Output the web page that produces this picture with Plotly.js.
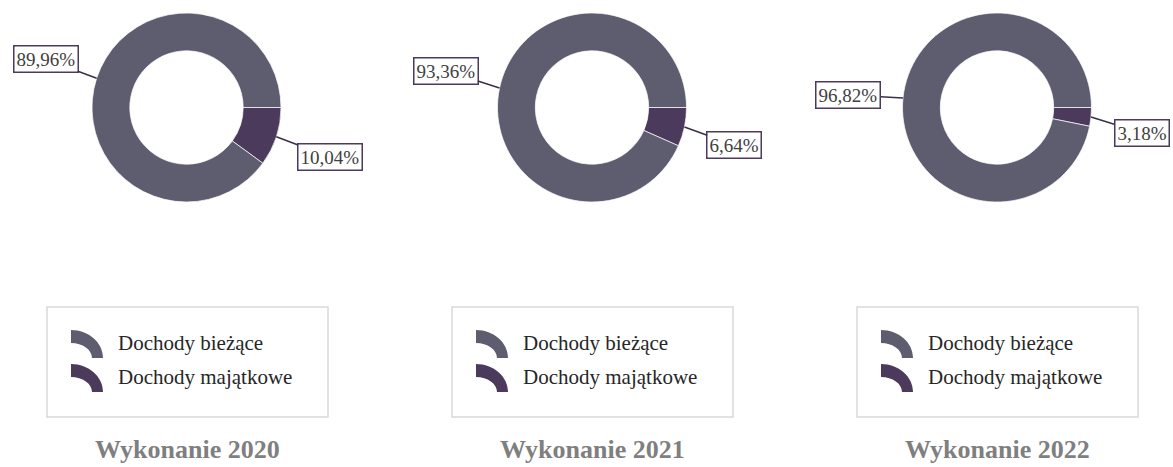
<!DOCTYPE html>
<html><head><meta charset="utf-8">
<script src="https://cdn.plot.ly/plotly-3.0.1.min.js"></script>
<style>html,body{margin:0;padding:0;background:#fff}#chart{width:1173px;height:467px}</style>
</head><body><div id="chart"></div>
<script>
// ---- data ----
const categories = ['Dochody bieżące', 'Dochody majątkowe'];
const years = ['2020', '2021', '2022'];
const titlePrefix = 'Wykonanie';
const biezace = [89.96, 93.36, 96.82];
const majatkowe = [10.04, 6.64, 3.18];

// ---- styling / layout constants ----
const colors = ['#5e5c6f', '#4b3a5c'];
const W = 1173, H = 467;
const centersX = [186.5, 592, 997];
const centerY = 107.5;
const R = 94.5;
const labelOffsets = [
  [[-51, -19], [54, 20.5]],
  [[-54, -17], [50, 18]],
  [[-54.5, -3], [50.5, 16]]
];
const legendLeft = [47, 452, 857];
const legendW = 281, legendTop = 307, legendBottom = 417;
const serif = 'Liberation Serif, Times New Roman, serif';

const X = px => px / W;
const Y = py => 1 - py / H;
const fmt = v => v.toFixed(2).replace('.', ',') + '%';

const traces = [];
const annotations = [];
const shapes = [];
const drawOrder = [1, 0]; // small slice drawn first, clockwise from 3 o'clock

years.forEach((yr, i) => {
  const vals = [biezace[i], majatkowe[i]];
  const cx = centersX[i];
  traces.push({
    type: 'pie',
    values: drawOrder.map(j => vals[j]),
    labels: drawOrder.map(j => categories[j]),
    hole: 0.6,
    sort: false,
    direction: 'clockwise',
    rotation: 90,
    textinfo: 'none',
    hoverinfo: 'label+percent',
    showlegend: false,
    marker: { colors: drawOrder.map(j => colors[j]), line: { color: 'rgba(255,255,255,0.7)', width: 1 } },
    domain: { x: [X(cx - R), X(cx + R)], y: [Y(centerY + R), Y(centerY - R)] }
  });

  // data labels with leader lines to slice midpoints
  const total = vals[0] + vals[1];
  let start = 0; // degrees counterclockwise from 3 o'clock
  vals.forEach((v, j) => {
    const span = 360 * v / total;
    const mid = (start + span / 2) * Math.PI / 180;
    start += span;
    const tx = cx + R * Math.cos(mid);
    const ty = centerY - R * Math.sin(mid);
    annotations.push({
      xref: 'paper', yref: 'paper', x: X(tx), y: Y(ty),
      ax: labelOffsets[i][j][0], ay: labelOffsets[i][j][1],
      text: fmt(v), showarrow: true, arrowhead: 0, arrowwidth: 1.5,
      arrowcolor: '#3b3048', standoff: 0,
      bordercolor: '#4b3a5c', borderwidth: 1.5, borderpad: 2, bgcolor: '#ffffff',
      font: { family: serif, size: 19, color: '#404040' }
    });
  });

  // legend box
  const lx = legendLeft[i];
  shapes.push({
    type: 'rect', xref: 'paper', yref: 'paper',
    x0: X(lx), x1: X(lx + legendW), y0: Y(legendBottom), y1: Y(legendTop),
    line: { color: '#d9d9d9', width: 1.5 }, fillcolor: 'rgba(0,0,0,0)'
  });
  categories.forEach((c, j) => {
    const x0 = lx + 24, y0 = 358 + j * 34;
    const rxo = 32, ryo = 28, rxi = 21, ryi = 15, k = 0.5523;
    const p = (x, y) => X(x) + ',' + Y(y);
    const path = 'M' + p(x0, y0 - ryo) +
      ' C' + p(x0 + k * rxo, y0 - ryo) + ' ' + p(x0 + rxo, y0 - k * ryo) + ' ' + p(x0 + rxo, y0) +
      ' L' + p(x0 + rxi, y0) +
      ' C' + p(x0 + rxi, y0 - k * ryi) + ' ' + p(x0 + k * rxi, y0 - ryi) + ' ' + p(x0, y0 - ryi) + ' Z';
    shapes.push({
      type: 'path', xref: 'paper', yref: 'paper', path: path,
      fillcolor: colors[j], line: { width: 0 }
    });
    annotations.push({
      xref: 'paper', yref: 'paper', x: X(lx + 69), y: Y(343 + j * 34),
      xanchor: 'left', yanchor: 'middle', showarrow: false,
      text: c, font: { family: serif, size: 21, color: '#262626' }
    });
  });

  // title under each chart
  annotations.push({
    xref: 'paper', yref: 'paper', x: X(lx + legendW / 2), y: Y(449),
    xanchor: 'center', yanchor: 'middle', showarrow: false,
    text: '<b>' + titlePrefix + ' ' + yr + '</b>',
    font: { family: serif, size: 26, color: '#7f7f7f' }
  });
});

const layout = {
  width: W, height: H,
  margin: { l: 0, r: 0, t: 0, b: 0 },
  paper_bgcolor: '#ffffff', plot_bgcolor: '#ffffff',
  showlegend: false,
  annotations: annotations,
  shapes: shapes
};

Plotly.newPlot('chart', traces, layout, { displayModeBar: false, staticPlot: true });
</script>
</body></html>
